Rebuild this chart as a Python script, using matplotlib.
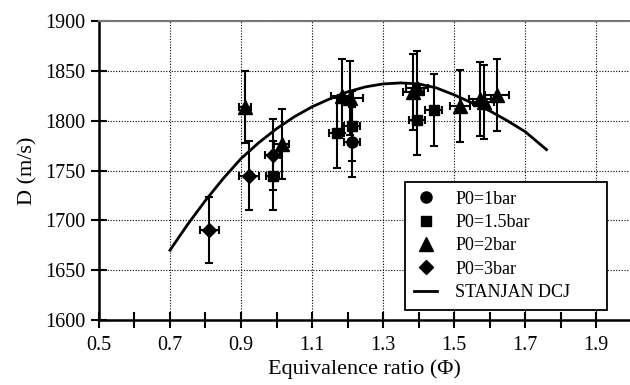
import matplotlib
matplotlib.use("Agg")
import matplotlib.pyplot as plt
from matplotlib.ticker import MultipleLocator

plt.rcParams['font.family'] = ['Liberation Serif', 'DejaVu Serif']

# P0 = 1 bar (circles)
phi_1 = [1.212]
d_1 = [1779]
yerr_1 = [35]
xerr_1 = [0.022]

# P0 = 1.5 bar (squares)
phi_15 = [0.989, 1.169, 1.212, 1.395, 1.442]
d_15 = [1745, 1788, 1795, 1801, 1811]
yerr_15 = [35, 35, 35, 35, 36]
xerr_15 = [0.018, 0.02, 0.023, 0.022, 0.023]

# P0 = 2 bar (triangles)
phi_2 = [0.911, 1.014, 1.184, 1.207, 1.385, 1.395, 1.517, 1.573, 1.583, 1.620]
d_2 = [1814, 1777, 1825, 1823, 1829, 1833, 1815, 1822, 1819, 1826]
yerr_2 = [36, 35, 37, 37, 38, 37, 36, 37, 37, 36]
xerr_2 = [0.016, 0.02, 0.03, 0.035, 0.03, 0.03, 0.028, 0.03, 0.03, 0.033]

# P0 = 3 bar (diamonds)
phi_3 = [0.811, 0.923, 0.989]
d_3 = [1690, 1745, 1766]
yerr_3 = [33, 35, 36]
xerr_3 = [0.026, 0.028, 0.022]

# STANJAN DCJ curve
phi_cj = [0.70, 0.75, 0.80, 0.85, 0.90, 0.95, 1.00, 1.05, 1.10, 1.15, 1.20,
          1.25, 1.30, 1.35, 1.40, 1.45, 1.50, 1.55, 1.60, 1.65, 1.70, 1.76]
d_cj = [1670, 1696, 1720, 1742, 1762, 1778, 1792, 1804, 1814, 1822, 1829,
        1834, 1837, 1838, 1837, 1833, 1826, 1818, 1810, 1800, 1789, 1771]

series = [
    (phi_1, d_1, xerr_1, yerr_1, 'o', 8, 'P0=1bar'),
    (phi_15, d_15, xerr_15, yerr_15, 's', 7.5, 'P0=1.5bar'),
    (phi_2, d_2, xerr_2, yerr_2, '^', 9.5, 'P0=2bar'),
    (phi_3, d_3, xerr_3, yerr_3, 'D', 7.5, 'P0=3bar'),
]

fig = plt.figure(figsize=(6.3, 3.85), dpi=100)
ax = fig.add_axes([0.157, 0.169, 0.843, 0.776])

for x, y, xe, ye, m, ms, lab in series:
    ax.errorbar(x, y, xerr=xe, yerr=ye, fmt='none', ecolor='black',
                elinewidth=1.5, capsize=3, capthick=1.5, zorder=3)
    ax.plot(x, y, linestyle='none', marker=m, markersize=ms, color='black',
            label=lab, zorder=4)

ax.plot(phi_cj, d_cj, color='black', linewidth=2, label='STANJAN DCJ', zorder=2)

ax.set_xlim(0.5, 1.995)
ax.set_ylim(1600, 1900)
ax.set_xticks([0.5, 0.7, 0.9, 1.1, 1.3, 1.5, 1.7, 1.9])
ax.xaxis.set_minor_locator(MultipleLocator(0.1))
ax.yaxis.set_major_locator(MultipleLocator(50))
ax.tick_params(axis='both', which='both', direction='inout', length=11,
               width=1.5, labelsize=14.5, color='black')
ax.tick_params(axis='x', pad=6)
ax.tick_params(axis='y', pad=4)

for v in [0.7, 0.9, 1.1, 1.3, 1.5, 1.7, 1.9]:
    ax.axvline(v, color='black', linestyle=(0, (1, 1.5)), linewidth=0.8, zorder=1)
for v in range(1650, 1901, 50):
    ax.axhline(v, color='black', linestyle=(0, (1, 1.5)), linewidth=0.8, zorder=1)

ax.spines['right'].set_visible(False)
ax.spines['top'].set_color('#777777')
ax.spines['top'].set_linewidth(1.5)
ax.spines['left'].set_linewidth(1.8)
ax.spines['bottom'].set_linewidth(1.8)

ax.set_xlabel('Equivalence ratio (Φ)', fontsize=16, labelpad=3)
ax.set_ylabel('D (m/s)', fontsize=16, labelpad=6)

leg = ax.legend(loc='lower left', bbox_to_anchor=(0.576, 0.033, 0.381, 0.449),
                mode='expand', fontsize=13, frameon=True, fancybox=False,
                edgecolor='black', handlelength=1.3, handletextpad=1.0,
                borderpad=0.5, labelspacing=0.35, borderaxespad=0)
leg.get_frame().set_linewidth(1.3)
leg.get_frame().set_alpha(1)

fig.savefig('out.png', dpi=100)
